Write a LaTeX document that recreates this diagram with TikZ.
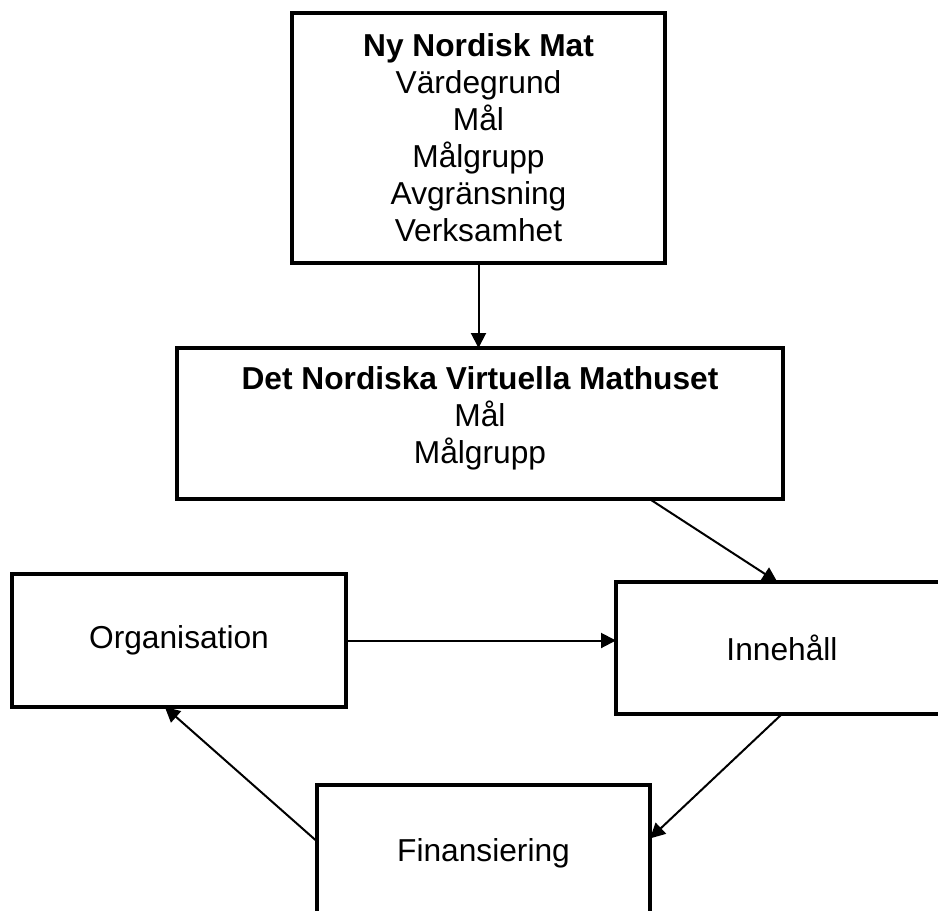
\documentclass[tikz,border=0pt]{standalone}
\usepackage{fontspec}
\setmainfont{Liberation Sans}
\usetikzlibrary{arrows.meta,positioning}
\tikzset{
  box/.style={draw, line width=1.8pt, rectangle, align=center, inner sep=0pt, outer sep=0pt,
    font=\fontsize{15.85pt}{18.5pt}\selectfont},
  arr/.style={line width=1pt, -{Triangle[length=7.5pt,width=7.5pt]}}
}
\begin{document}
\begin{tikzpicture}[x=0.5pt,y=-0.5pt]
    \useasboundingbox (0,0) rectangle (938,911);
    \clip (0,0) rectangle (938,911);
    % Ny Nordisk Mat
    \node[box,minimum width=186.5pt,minimum height=125pt] (nnm) at (478.5,138)
      {\textbf{Ny Nordisk Mat}\\ Värdegrund\\ Mål\\ Målgrupp\\ Avgränsning\\ Verksamhet};
    % Det Nordiska Virtuella Mathuset
    \node[box,minimum width=303pt,minimum height=75.5pt] (dnvm) at (480,423.5)
      {\textbf{Det Nordiska Virtuella Mathuset}\\ Mål\\ Målgrupp\\[-9.7pt]\mbox{}};
    % Lower boxes
    \node[box,minimum width=167pt,minimum height=66.5pt] (org) at (179,640.5) {Organisation};
    \node[box,minimum width=166pt,minimum height=66pt] (inn) at (782,648) {Innehåll};
    \node[box,minimum width=166.5pt,minimum height=68pt] (fin) at (483.5,853) {Finansiering};
    % Arrows
    \draw[arr] (nnm.south) -- (nnm.south |- dnvm.north);
    \draw[arr] (dnvm.-24) -- (inn.94);
    \draw[arr] (org.east) -- (org.east -| inn.west);
    \draw[arr] (inn.south) -- (fin.5);
    \draw[arr] (fin.176) -- (org.258);
\end{tikzpicture}
\end{document}
